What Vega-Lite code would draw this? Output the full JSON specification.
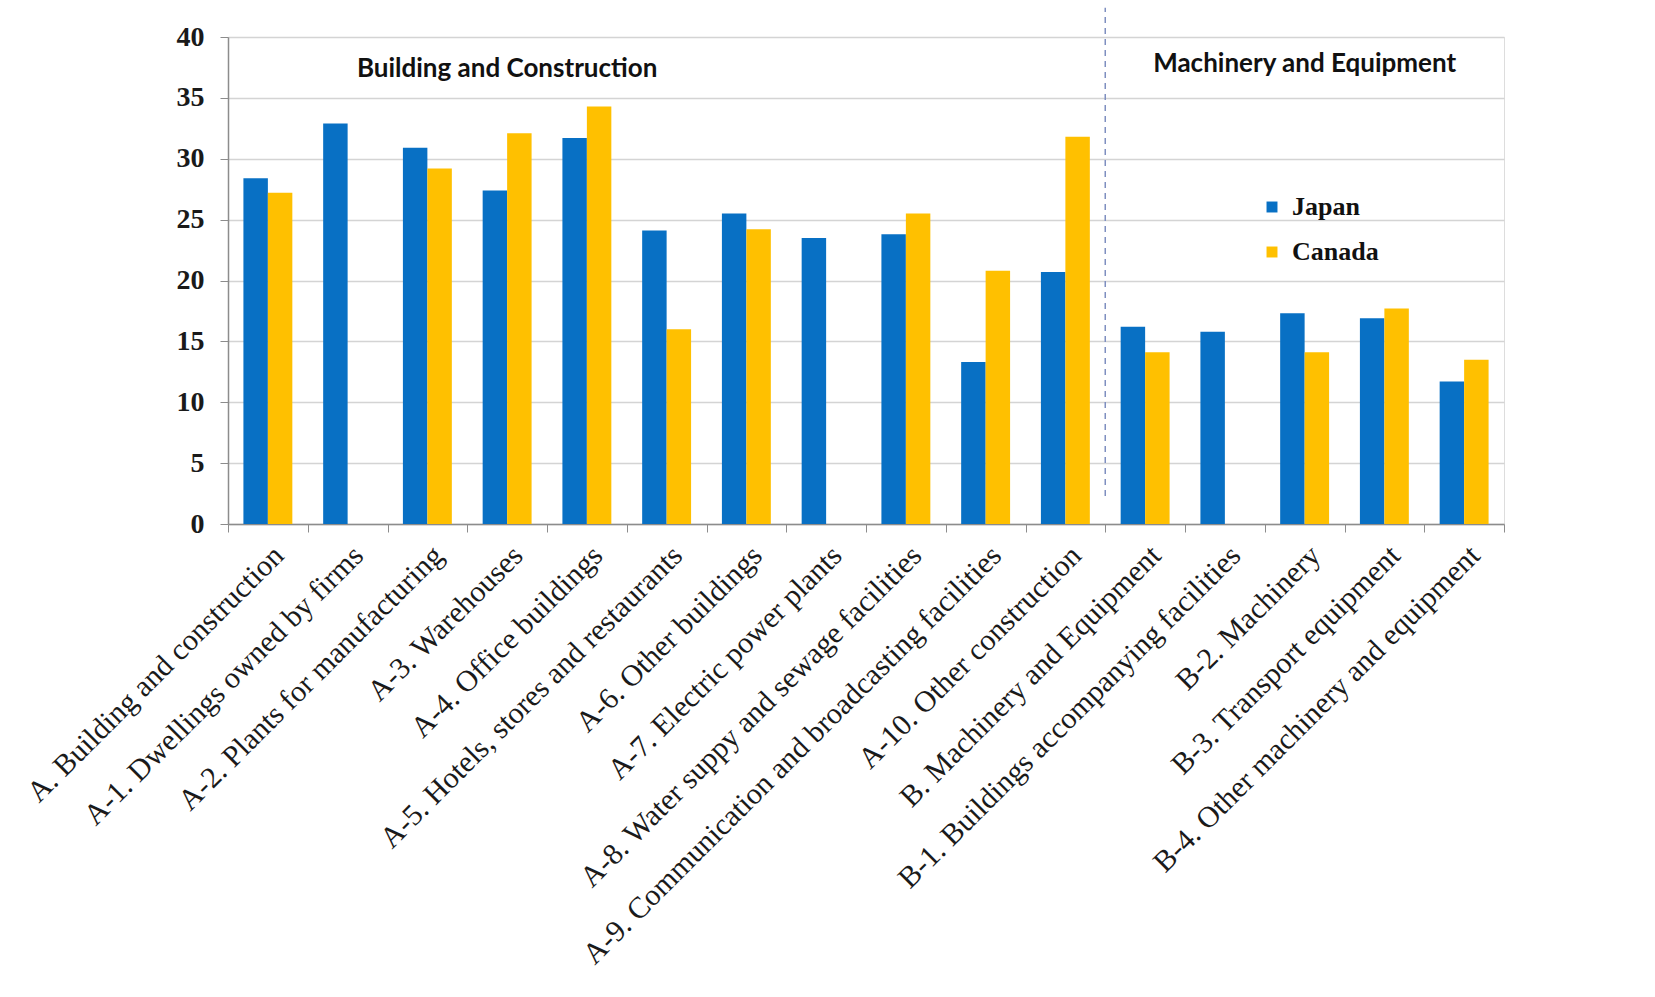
{
  "$schema": "https://vega.github.io/schema/vega-lite/v6.json",
  "autosize": {"type": "none"},
  "padding": {"left": 228, "top": 37, "right": 151, "bottom": 473},
  "width": 1276,
  "height": 487,
  "background": "white",
  "datasets": {
    "bars": [
      {"category": "A. Building and construction", "country": "Japan", "value": 28.4},
      {"category": "A. Building and construction", "country": "Canada", "value": 27.2},
      {"category": "A-1. Dwellings owned by firms", "country": "Japan", "value": 32.9},
      {"category": "A-2. Plants for manufacturing", "country": "Japan", "value": 30.9},
      {"category": "A-2. Plants for manufacturing", "country": "Canada", "value": 29.2},
      {"category": "A-3. Warehouses", "country": "Japan", "value": 27.4},
      {"category": "A-3. Warehouses", "country": "Canada", "value": 32.1},
      {"category": "A-4. Office buildings", "country": "Japan", "value": 31.7},
      {"category": "A-4. Office buildings", "country": "Canada", "value": 34.3},
      {"category": "A-5. Hotels, stores and restaurants", "country": "Japan", "value": 24.1},
      {"category": "A-5. Hotels, stores and restaurants", "country": "Canada", "value": 16.0},
      {"category": "A-6. Other buildings", "country": "Japan", "value": 25.5},
      {"category": "A-6. Other buildings", "country": "Canada", "value": 24.2},
      {"category": "A-7. Electric power plants", "country": "Japan", "value": 23.5},
      {"category": "A-8. Water suppy and sewage facilities", "country": "Japan", "value": 23.8},
      {"category": "A-8. Water suppy and sewage facilities", "country": "Canada", "value": 25.5},
      {"category": "A-9. Communication and broadcasting facilities", "country": "Japan", "value": 13.3},
      {"category": "A-9. Communication and broadcasting facilities", "country": "Canada", "value": 20.8},
      {"category": "A-10. Other construction", "country": "Japan", "value": 20.7},
      {"category": "A-10. Other construction", "country": "Canada", "value": 31.8},
      {"category": "B. Machinery and Equipment", "country": "Japan", "value": 16.2},
      {"category": "B. Machinery and Equipment", "country": "Canada", "value": 14.1},
      {"category": "B-1. Buildings accompanying facilities", "country": "Japan", "value": 15.8},
      {"category": "B-2. Machinery", "country": "Japan", "value": 17.3},
      {"category": "B-2. Machinery", "country": "Canada", "value": 14.1},
      {"category": "B-3. Transport equipment", "country": "Japan", "value": 16.9},
      {"category": "B-3. Transport equipment", "country": "Canada", "value": 17.7},
      {"category": "B-4. Other machinery and equipment", "country": "Japan", "value": 11.7},
      {"category": "B-4. Other machinery and equipment", "country": "Canada", "value": 13.5}
    ],
    "headers": [
      {"category": "A-3. Warehouses", "value": 37.4, "label": "Building and Construction"},
      {"category": "B-2. Machinery", "value": 37.8, "label": "Machinery and Equipment"}
    ],
    "divider": [
      {"category": "B. Machinery and Equipment", "low": 2.3, "high": 42.4}
    ]
  },
  "encoding": {
    "x": {
      "field": "category",
      "type": "nominal",
      "title": null,
      "scale": {
        "domain": [
          "A. Building and construction",
          "A-1. Dwellings owned by firms",
          "A-2. Plants for manufacturing",
          "A-3. Warehouses",
          "A-4. Office buildings",
          "A-5. Hotels, stores and restaurants",
          "A-6. Other buildings",
          "A-7. Electric power plants",
          "A-8. Water suppy and sewage facilities",
          "A-9. Communication and broadcasting facilities",
          "A-10. Other construction",
          "B. Machinery and Equipment",
          "B-1. Buildings accompanying facilities",
          "B-2. Machinery",
          "B-3. Transport equipment",
          "B-4. Other machinery and equipment"
        ],
        "paddingInner": 0,
        "paddingOuter": 0
      },
      "axis": {
        "labelAngle": -45,
        "labelFont": "Liberation Serif",
        "labelFontSize": 30,
        "labelColor": "#1a1a1a",
        "labelLimit": 1000,
        "labelPadding": 8,
        "tickBand": "extent",
        "tickSize": 8,
        "tickColor": "#8c8c8c",
        "domainColor": "#8c8c8c",
        "domainWidth": 1.5,
        "grid": false
      }
    }
  },
  "layer": [
    {
      "data": {"name": "bars"},
      "mark": {"type": "bar"},
      "encoding": {
        "xOffset": {
          "field": "country",
          "type": "nominal",
          "scale": {"domain": ["Japan", "Canada"], "paddingInner": 0, "paddingOuter": 0.63}
        },
        "y": {
          "field": "value",
          "type": "quantitative",
          "title": null,
          "scale": {"domain": [0, 40], "nice": false},
          "axis": {
            "values": [0, 5, 10, 15, 20, 25, 30, 35, 40],
            "labelFont": "Liberation Serif",
            "labelFontWeight": "bold",
            "labelFontSize": 28,
            "labelColor": "#1a1a1a",
            "labelPadding": 16,
            "tickSize": 8,
            "tickColor": "#8c8c8c",
            "domainColor": "#8c8c8c",
            "domainWidth": 1.5,
            "gridColor": "#d4d4d4",
            "gridWidth": 1.5
          }
        },
        "color": {
          "field": "country",
          "type": "nominal",
          "scale": {"domain": ["Japan", "Canada"], "range": ["#0870C4", "#FFC000"]},
          "legend": {
            "title": null,
            "orient": "none",
            "legendX": 1031,
            "legendY": 157,
            "padding": 0,
            "symbolType": "square",
            "symbolSize": 120,
            "symbolStrokeWidth": 0,
            "labelFont": "Liberation Serif",
            "labelFontWeight": "bold",
            "labelFontSize": 26,
            "labelColor": "#111111",
            "labelOffset": 7,
            "rowPadding": 19
          }
        }
      }
    },
    {
      "data": {"name": "divider"},
      "mark": {"type": "rule", "color": "#7f8fc0", "strokeDash": [6, 5], "strokeWidth": 1.5},
      "encoding": {
        "x": {"field": "category", "type": "nominal", "bandPosition": 0},
        "y": {"field": "low", "type": "quantitative"},
        "y2": {"field": "high"}
      }
    },
    {
      "data": {"name": "headers"},
      "mark": {"type": "text", "font": "Lato", "fontWeight": "bold", "fontSize": 26, "color": "#111111", "align": "center", "baseline": "middle"},
      "encoding": {
        "y": {"field": "value", "type": "quantitative"},
        "text": {"field": "label"}
      }
    }
  ]
}
